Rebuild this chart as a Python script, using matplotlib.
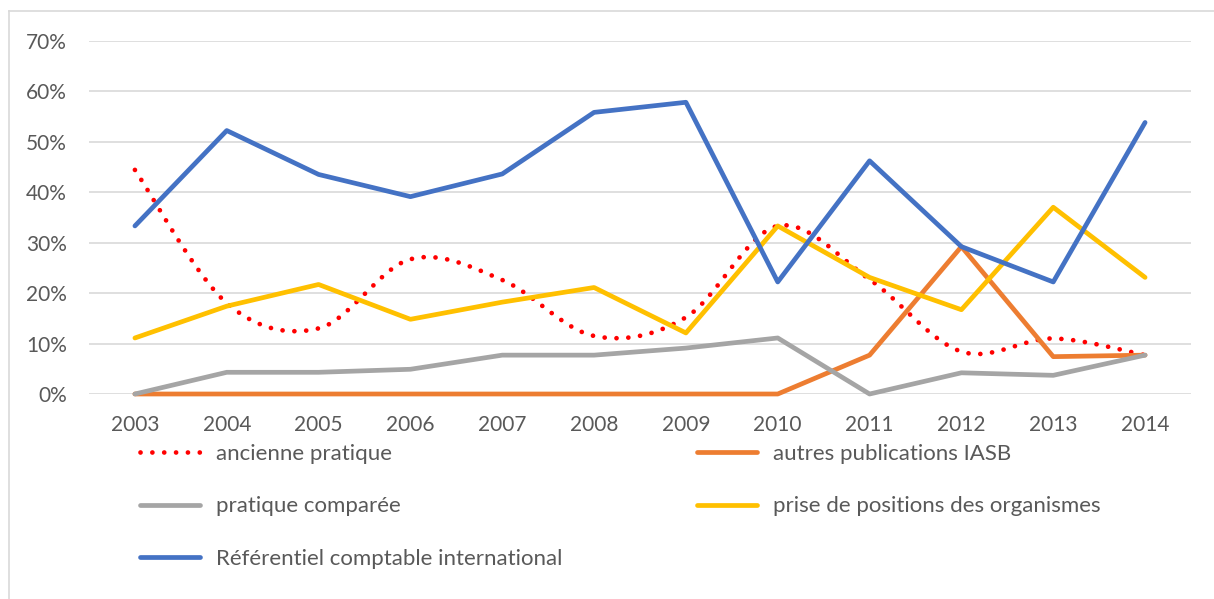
import numpy as np
import matplotlib
matplotlib.use('Agg')
import matplotlib.pyplot as plt
from matplotlib.lines import Line2D

plt.rcParams['font.family'] = ['Lato', 'DejaVu Sans']

years = [2003, 2004, 2005, 2006, 2007, 2008, 2009, 2010, 2011, 2012, 2013, 2014]
ancienne = [44.4, 18.0, 13.0, 26.7, 22.6, 11.5, 15.2, 33.3, 22.7, 8.4, 11.0, 7.7]
autres = [0, 0, 0, 0, 0, 0, 0, 0, 7.7, 29.2, 7.4, 7.7]
comparee = [0, 4.3, 4.3, 4.9, 7.7, 7.7, 9.1, 11.1, 0, 4.2, 3.7, 7.7]
prise = [11.1, 17.4, 21.7, 14.8, 18.2, 21.1, 12.1, 33.3, 23.1, 16.7, 37.0, 23.1]
referentiel = [33.3, 52.2, 43.5, 39.1, 43.6, 55.8, 57.8, 22.2, 46.2, 29.2, 22.2, 53.8]

names = ['ancienne pratique', 'autres publications IASB', 'pratique comparée',
         'prise de positions des organismes', 'Référentiel comptable international']
colors = ['#FF0000', '#ED7D31', '#A5A5A5', '#FFC000', '#4472C4']
txt = '#595959'

W, H = 1214, 599
fig = plt.figure(figsize=(W / 100, H / 100), dpi=100)
ax = fig.add_axes([89 / W, 205 / H, (1191 - 89) / W, (394 - 40.7) / H])
ax.set_xlim(2002.5, 2014.5)
ax.set_ylim(0, 70)


def smooth(xs, ys, n=30):
    # Excel-like smoothed line: Catmull-Rom through the points, in screen space
    p = ax.transData.transform(np.column_stack([xs, ys]))
    p = np.vstack([p[0], p, p[-1]])
    out = []
    for i in range(1, len(p) - 2):
        p0, p1, p2, p3 = p[i - 1], p[i], p[i + 1], p[i + 2]
        c1 = p1 + (p2 - p0) / 6
        c2 = p2 - (p3 - p1) / 6
        t = np.linspace(0, 1, n)[:, None]
        seg = ((1 - t) ** 3) * p1 + 3 * ((1 - t) ** 2) * t * c1 + 3 * (1 - t) * t ** 2 * c2 + t ** 3 * p2
        out.append(seg if i == 1 else seg[1:])
    out = np.vstack(out)
    d = ax.transData.inverted().transform(out)
    return d[:, 0], d[:, 1]


lw = 3.4
sx, sy = smooth(years, ancienne)
h1, = ax.plot(sx, sy, color=colors[0], lw=lw, linestyle=(0, (0.01, 2.5)),
              dash_capstyle='round', zorder=3, clip_on=False)
h2, = ax.plot(years, autres, color=colors[1], lw=lw, solid_capstyle='round', zorder=4, clip_on=False)
h3, = ax.plot(years, comparee, color=colors[2], lw=lw, solid_capstyle='round', zorder=5, clip_on=False)
h4, = ax.plot(years, prise, color=colors[3], lw=lw, solid_capstyle='round', zorder=6, clip_on=False)
h5, = ax.plot(years, referentiel, color=colors[4], lw=lw, solid_capstyle='round', zorder=7, clip_on=False)

ax.set_yticks(range(0, 80, 10))
ax.set_yticklabels([f'{v}%' for v in range(0, 80, 10)])
ax.set_xticks(years)
ax.set_xticklabels([str(y) for y in years])
ax.grid(axis='y', color='#D9D9D9', lw=1.2)
ax.set_axisbelow(True)
for s in ax.spines.values():
    s.set_visible(False)
ax.tick_params(length=0, labelsize=15, labelcolor=txt)
ax.tick_params(axis='x', pad=15)
ax.tick_params(axis='y', pad=16)

leg_kw = dict(frameon=False, fontsize=16, labelcolor=txt, handlelength=2.7,
              handletextpad=0.7, labelspacing=1.46, borderpad=0, borderaxespad=0,
              loc='upper left')
fig.legend([h1, h3, h5], [names[0], names[2], names[4]],
           bbox_to_anchor=(140 / W, 1 - 444 / H), **leg_kw)
fig.legend([h2, h4], [names[1], names[3]],
           bbox_to_anchor=(697 / W, 1 - 444 / H), **leg_kw)

# outer chart frame (left and top edges visible in the picture)
fig.add_artist(Line2D([8.5 / W, 8.5 / W], [0, 1 - 11 / H], color='#D9D9D9', lw=1.2,
                      transform=fig.transFigure))
fig.add_artist(Line2D([8.5 / W, 1], [1 - 11 / H, 1 - 11 / H], color='#D9D9D9', lw=1.2,
                      transform=fig.transFigure))

fig.savefig('out.png', dpi=100)
